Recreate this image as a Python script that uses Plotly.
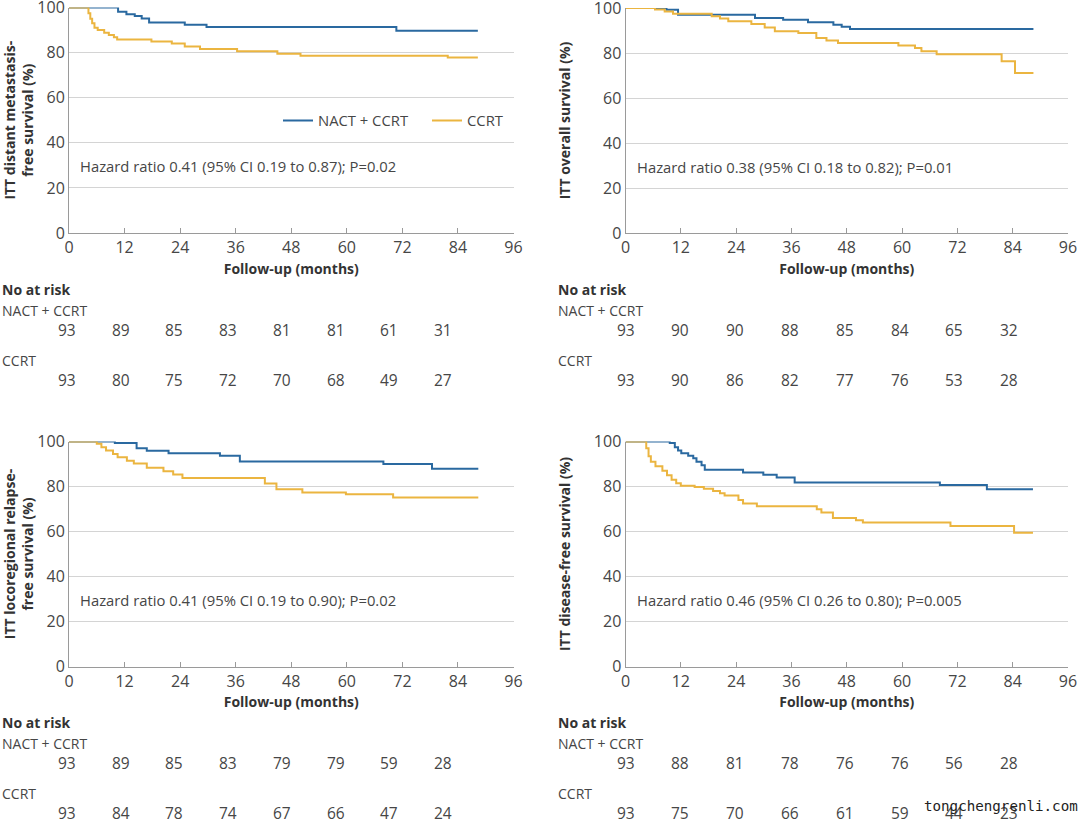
import plotly.graph_objects as go

# ---------------- data ----------------
months = [0, 12, 24, 36, 48, 60, 72, 84]
x_ticks = [0, 12, 24, 36, 48, 60, 72, 84, 96]
y_ticks = [0, 20, 40, 60, 80, 100]
groups = ["NACT + CCRT", "CCRT"]

# Distant metastasis-free survival
dmfs_nact_t = [0, 10.6, 12.4, 14.2, 15.7, 17.3, 25.0, 29.7, 70.7, 88.3]
dmfs_nact_s = [100, 98.1, 97.0, 96.2, 95.1, 93.4, 92.3, 91.3, 89.7, 89.7]
dmfs_ccrt_t = [0, 4.2, 4.6, 5.0, 5.5, 6.2, 7.6, 8.6, 9.7, 10.4, 17.8, 22.2, 25.0, 28.3, 36.3, 45.0, 50.0, 81.8, 88.3]
dmfs_ccrt_s = [100, 97.5, 95, 93, 91, 90, 88.8, 87.8, 86.8, 85.8, 84.9, 84.0, 82.7, 81.6, 80.6, 79.5, 78.6, 77.8, 77.8]

# Overall survival
os_nact_t = [0, 8.9, 11.4, 28.1, 34.2, 39.6, 45.1, 46.9, 48.7, 88.5]
os_nact_s = [100, 99.2, 97.0, 95.6, 94.8, 93.7, 92.6, 91.7, 90.7, 90.7]
os_ccrt_t = [0, 6.4, 8.5, 10.3, 18.7, 20.5, 22.3, 27.3, 30.2, 32.4, 37.5, 41.4, 43.6, 46.1, 59.2, 62.8, 64.2, 67.5, 81.6, 84.5, 88.5]
os_ccrt_s = [100, 99.3, 98.5, 97.4, 96.3, 95.3, 94.1, 92.9, 91.3, 89.7, 88.9, 86.7, 85.6, 84.4, 83.3, 82.2, 80.8, 79.4, 76.3, 71.1, 71.1]

# Locoregional relapse-free survival
lrrfs_nact_t = [0, 9.9, 14.6, 16.8, 21.5, 32.6, 36.9, 67.9, 78.4, 88.4]
lrrfs_nact_s = [100, 99.3, 97.0, 95.9, 94.8, 93.7, 91.1, 90.0, 87.9, 87.9]
lrrfs_ccrt_t = [0, 6.0, 7.0, 8.0, 9.5, 10.5, 12.5, 14.0, 16.8, 20.4, 22.5, 24.5, 42.3, 44.8, 50.4, 59.8, 70.0, 88.4]
lrrfs_ccrt_s = [100, 99, 97.5, 96, 94.5, 93, 91.5, 90.2, 88.3, 86.8, 85.3, 83.8, 81.3, 78.8, 77.3, 76.6, 75.1, 75.1]

# Disease-free survival
dfs_nact_t = [0, 9.6, 10.7, 11.4, 12.1, 13.6, 14.7, 15.4, 16.5, 17.2, 25.5, 29.9, 32.8, 36.7, 68.2, 78.4, 88.4]
dfs_nact_s = [100, 99.3, 97.5, 96, 94.8, 93.7, 92.6, 91, 89.5, 87.4, 86.2, 85.2, 84, 81.8, 80.7, 78.8, 78.8]
dfs_ccrt_t = [0, 4.5, 5.0, 5.5, 6.5, 8.0, 9.0, 10.0, 11.0, 12.0, 15.0, 17.0, 19.0, 20.5, 21.5, 24.5, 25.5, 28.5, 41.5, 42.5, 45.0, 50.0, 51.5, 70.5, 84.3, 88.4]
dfs_ccrt_s = [100, 97, 93.5, 91, 89, 87, 85, 83, 81.5, 80.3, 79.8, 79, 78, 77, 76, 74, 72.5, 71.2, 69.9, 68.5, 66, 65, 64, 62.5, 59.5, 59.5]

# Numbers at risk
dmfs_risk_nact = [93, 89, 85, 83, 81, 81, 61, 31]
dmfs_risk_ccrt = [93, 80, 75, 72, 70, 68, 49, 27]
os_risk_nact = [93, 90, 90, 88, 85, 84, 65, 32]
os_risk_ccrt = [93, 90, 86, 82, 77, 76, 53, 28]
lrrfs_risk_nact = [93, 89, 85, 83, 79, 79, 59, 28]
lrrfs_risk_ccrt = [93, 84, 78, 74, 67, 66, 47, 24]
dfs_risk_nact = [93, 88, 81, 78, 76, 76, 56, 28]
dfs_risk_ccrt = [93, 75, 70, 66, 61, 59, 44, 23]

y_titles = [
    "ITT distant metastasis-<br>free survival (%)",
    "ITT overall survival (%)",
    "ITT locoregional relapse-<br>free survival (%)",
    "ITT disease-free survival (%)",
]
hr_texts = [
    "Hazard ratio 0.41 (95% CI 0.19 to 0.87); P=0.02",
    "Hazard ratio 0.38 (95% CI 0.18 to 0.82); P=0.01",
    "Hazard ratio 0.41 (95% CI 0.19 to 0.90); P=0.02",
    "Hazard ratio 0.46 (95% CI 0.26 to 0.80); P=0.005",
]

# ---------------- styling ----------------
W, H = 1080, 823
BLUE = "#2a69a0"
GOLD = "#ebb540"
TXT = "#464646"
DARK = "#333333"
FONT = "Open Sans"


def fx(p):
    return min(1.0, max(0.0, p / W))


def fy(p):
    return min(1.0, max(0.0, 1 - p / H))


panels = [
    dict(t=(dmfs_nact_t, dmfs_ccrt_t), s=(dmfs_nact_s, dmfs_ccrt_s),
         risk=(dmfs_risk_nact, dmfs_risk_ccrt), xd=(69, 513.5), yd=(7.5, 233),
         tab_left=0, tab_x0=67, tab_step=53.7, tab_y=(289, 310, 330, 360, 380), standoff=18),
    dict(t=(os_nact_t, os_ccrt_t), s=(os_nact_s, os_ccrt_s),
         risk=(os_risk_nact, os_risk_ccrt), xd=(625.5, 1068), yd=(8, 233),
         tab_left=556, tab_x0=625.5, tab_step=54.8, tab_y=(289, 310, 330, 360, 380), standoff=19),
    dict(t=(lrrfs_nact_t, lrrfs_ccrt_t), s=(lrrfs_nact_s, lrrfs_ccrt_s),
         risk=(lrrfs_risk_nact, lrrfs_risk_ccrt), xd=(69, 513.5), yd=(441.5, 666.5),
         tab_left=0, tab_x0=67, tab_step=53.7, tab_y=(722, 743, 763, 793, 813), standoff=18),
    dict(t=(dfs_nact_t, dfs_ccrt_t), s=(dfs_nact_s, dfs_ccrt_s),
         risk=(dfs_risk_nact, dfs_risk_ccrt), xd=(625.5, 1068), yd=(441.5, 666.5),
         tab_left=556, tab_x0=625.5, tab_step=54.8, tab_y=(722, 743, 763, 793, 813), standoff=19),
]

fig = go.Figure()
annotations = []
layout_axes = {}

for i, p in enumerate(panels):
    k = "" if i == 0 else str(i + 1)
    xa, ya = "x" + k, "y" + k
    for g, (tt, ss, col) in enumerate(zip(p["t"], p["s"], (BLUE, GOLD))):
        fig.add_trace(go.Scatter(
            x=tt, y=ss, mode="lines", line=dict(color=col, width=2, shape="hv"),
            name=groups[g], xaxis=xa, yaxis=ya, showlegend=(i == 0),
            hoverinfo="skip", cliponaxis=False))

    layout_axes["xaxis" + k] = dict(
        domain=[fx(p["xd"][0]), fx(p["xd"][1])], anchor=ya, range=[0, 96],
        tickvals=x_ticks, ticks="inside", ticklen=5, tickcolor="#9a9a9a",
        showline=True, linecolor="#9a9a9a", linewidth=1, showgrid=False,
        zeroline=False, automargin=False, ticklabeloverflow="allow",
        tickfont=dict(size=16, color=TXT, family=FONT),
        title=dict(text="<b>Follow-up (months)</b>", font=dict(size=14, color=DARK, family=FONT),
                   standoff=6),
        fixedrange=True)
    layout_axes["yaxis" + k] = dict(
        domain=[fy(p["yd"][1]), fy(p["yd"][0])], anchor=xa, range=[0, 100],
        tickvals=y_ticks, ticks="", showline=True, linecolor="#9a9a9a", linewidth=1,
        showgrid=True, gridcolor="#d4d4d4", gridwidth=1, zeroline=False, automargin=False,
        ticklabeloverflow="allow",
        tickfont=dict(size=16, color=TXT, family=FONT),
        title=dict(text="<b>" + y_titles[i] + "</b>", font=dict(size=14, color=DARK, family=FONT),
                   standoff=p["standoff"]),
        fixedrange=True)

    # hazard ratio text
    annotations.append(dict(text=hr_texts[i], xref=xa, yref=ya, x=2.0, y=29.5,
                            xanchor="left", yanchor="middle", showarrow=False,
                            font=dict(size=14.8, color=TXT, family=FONT)))

    # number at risk table
    ty = p["tab_y"]
    annotations.append(dict(text="<b>No at risk</b>", xref="paper", yref="paper",
                            x=fx(p["tab_left"]), y=fy(ty[0]), xanchor="left", yanchor="middle",
                            showarrow=False, font=dict(size=14, color=DARK, family=FONT)))
    for g, lab_y, num_y in ((0, ty[1], ty[2]), (1, ty[3], ty[4])):
        annotations.append(dict(text=groups[g], xref="paper", yref="paper",
                                x=fx(p["tab_left"]), y=fy(lab_y), xanchor="left", yanchor="middle",
                                showarrow=False, font=dict(size=14, color=TXT, family=FONT)))
        for m, n in zip(months, p["risk"][g]):
            px = p["tab_x0"] + m / 12 * p["tab_step"]
            annotations.append(dict(text=str(n), xref="paper", yref="paper",
                                    x=fx(px), y=fy(num_y), xanchor="center", yanchor="middle",
                                    showarrow=False, font=dict(size=15.5, color=TXT, family=FONT)))

# watermark
annotations.append(dict(text="tongchengrenli.com", xref="paper", yref="paper",
                        x=fx(922), y=fy(806), xanchor="left", yanchor="middle", showarrow=False,
                        font=dict(size=14.2, color="#222222", family="DejaVu Sans Mono")))

fig.update_layout(
    width=W, height=H, margin=dict(l=0, r=0, t=0, b=0, autoexpand=False),
    paper_bgcolor="white", plot_bgcolor="white",
    font=dict(family=FONT, color=TXT),
    showlegend=True,
    legend=dict(orientation="h", x=fx(278), y=fy(121), xanchor="left", yanchor="middle",
                bgcolor="rgba(0,0,0,0)", font=dict(size=14.8, color=TXT, family=FONT),
                itemwidth=30, entrywidth=104, tracegroupgap=0),
    annotations=annotations,
    **layout_axes,
)

# remove the default page margin so the figure sits at the window's top-left corner
fig.write_html("out.html", config={"displayModeBar": False, "staticPlot": True},
               post_script="document.body.style.margin='0';document.body.style.overflow='hidden';")
